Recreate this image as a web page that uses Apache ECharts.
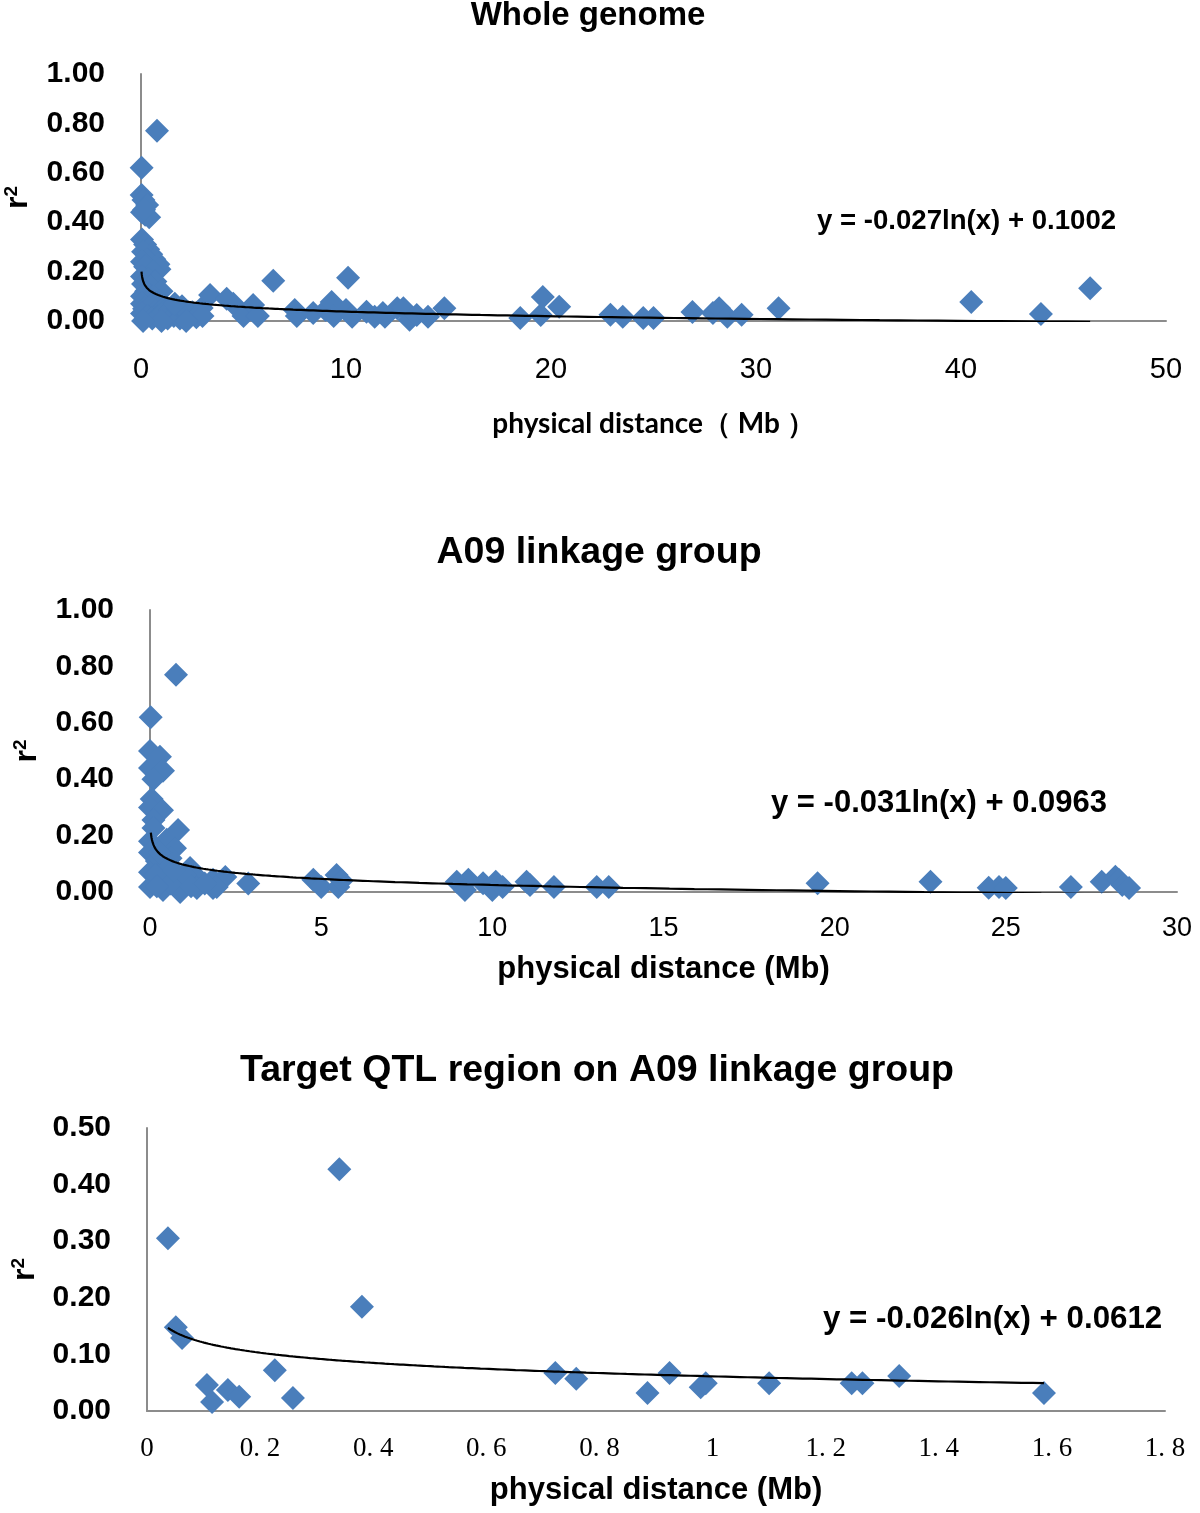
<!DOCTYPE html>
<html>
<head>
<meta charset="utf-8">
<script src="https://cdn.jsdelivr.net/npm/echarts@6/dist/echarts.min.js"></script>
<style>
html,body{margin:0;padding:0;background:#fff;}
#main{width:1200px;height:1513px;}
</style>
</head>
<body>
<div id="main"></div>
<script>
// ---------- DATA ----------
const chartTitles = ['Whole genome', 'A09 linkage group', 'Target QTL region on A09 linkage group'];
const equations = ['y = -0.027ln(x) + 0.1002', 'y = -0.031ln(x) + 0.0963', 'y = -0.026ln(x) + 0.0612'];
// trendline coefficients [a, b] for y = a*ln(x) + b, and x range [start, end]
const trendCoefs = [[-0.027, 0.1002], [-0.031, 0.0963], [-0.026, 0.0612]];
const trendRanges = [[0.025, 46.3], [0.025, 28.6], [0.037, 1.586]];

const wholeGenome = [
  [0.03,0.62],[0.78,0.77],
  [0.03,0.51],[0.12,0.49],[0.3,0.47],[0.05,0.44],[0.2,0.43],[0.4,0.42],[0.15,0.45],
  [0.05,0.33],[0.2,0.31],[0.35,0.29],[0.5,0.27],[0.1,0.28],[0.65,0.25],[0.3,0.25],[0.85,0.23],[0.9,0.21],[0.05,0.24],[0.2,0.22],[0.6,0.2],
  [0.05,0.18],[0.35,0.17],[0.7,0.16],[0.1,0.15],[0.5,0.14],[1.0,0.12],[0.25,0.12],[0.05,0.1],[0.6,0.1],[0.3,0.08],[0.9,0.08],
  [0.05,0.07],[0.15,0.05],[0.45,0.06],[0.7,0.04],[1.2,0.06],[0.05,0.03],[0.3,0.02],[0.55,0.01],[0.85,0.02],[1.1,0.035],
  [1.3,0.01],[1.45,0.045],[1.6,0.02],[1.8,0.05],[1.9,0.01],[2.1,0.04],[2.3,0.02],[2.5,0.035],[2.7,0.015],[2.96,0.053],
  [3.0,0.02],[1.0,0.0],[0.1,0.0],[2.0,0.06],[2.2,0.0],[1.65,0.07],
  [3.37,0.105],[4.18,0.09],[4.5,0.07],[5.0,0.02],[5.47,0.065],[5.7,0.02],[6.45,0.163],[7.5,0.045],[7.6,0.02],[8.4,0.032],
  [9.0,0.045],[9.3,0.077],[9.4,0.02],[10.0,0.045],[10.1,0.175],[10.3,0.017],[11.0,0.037],[11.4,0.017],[11.8,0.032],[11.9,0.017],
  [12.5,0.052],[12.8,0.052],[13.1,0.005],[13.45,0.024],[14.0,0.017],[14.8,0.052],[18.5,0.012],[19.5,0.024],[19.6,0.097],[20.4,0.058],
  [22.9,0.025],[23.5,0.017],[24.5,0.012],[25.0,0.012],[26.9,0.036],[27.9,0.032],[28.2,0.052],[28.6,0.017],[29.3,0.025],[31.1,0.052],
  [40.5,0.077],[43.9,0.028],[46.3,0.133]
];

const a09Group = [
  [0.02,0.62],[0.76,0.77],[0.0,0.50],[0.29,0.48],[0.0,0.44],[0.38,0.43],[0.1,0.40],[0.05,0.33],[0.0,0.30],[0.35,0.29],
  [0.1,0.255],[0.82,0.22],[0.1,0.227],[0.0,0.18],[0.49,0.185],[0.73,0.155],[0.0,0.14],[0.2,0.11],[1.17,0.085],[0.0,0.07],
  [0.38,0.053],[0.88,0.032],[1.37,0.053],[1.84,0.043],[2.2,0.053],[1.84,0.014],[2.87,0.03],[0.0,0.018],[0.38,0.007],[0.88,0.0],
  [1.37,0.014],[1.95,0.018],[0.5,0.09],[0.6,0.12],[0.3,0.14],[0.15,0.06],[0.6,0.03],[1.0,0.06],[0.7,0.075],[1.2,0.02],
  [1.6,0.03],[0.2,0.02],
  [4.77,0.043],[5.0,0.018],[5.45,0.06],[5.5,0.018],[5.6,0.04],[8.96,0.036],[9.3,0.043],[9.2,0.007],[9.73,0.031],[10.1,0.036],
  [10.0,0.007],[10.3,0.018],[11.0,0.036],[11.1,0.025],[11.8,0.018],[13.05,0.018],[13.4,0.018],[19.5,0.031],[22.8,0.036],
  [24.5,0.015],[24.8,0.018],[25.0,0.014],[26.9,0.018],[27.8,0.036],[28.2,0.054],[28.3,0.043],[28.4,0.025],[28.6,0.014]
];

const qtlRegion = [
  [0.037,0.305],[0.34,0.427],[0.38,0.184],[0.051,0.148],[0.062,0.129],[0.106,0.046],[0.115,0.016],[0.143,0.037],
  [0.163,0.025],[0.226,0.072],[0.258,0.023],[0.722,0.067],[0.759,0.057],[0.885,0.032],[0.924,0.067],[0.979,0.042],
  [0.988,0.049],[1.10,0.049],[1.246,0.049],[1.265,0.049],[1.33,0.062],[1.586,0.032]
];

const xAxisNames = ['physical distance（ Mb ）', 'physical distance (Mb)', 'physical distance (Mb)'];
const yAxisName = '{r|r}{s|2}';

// ---------- BUILD ----------
function trend(i) {
  const [a, b] = trendCoefs[i];
  const [s, e] = trendRanges[i];
  const pts = [];
  const n = 300;
  for (let k = 0; k <= n; k++) {
    const x = Math.exp(Math.log(s) + (Math.log(e) - Math.log(s)) * k / n);
    pts.push([x, a * Math.log(x) + b]);
  }
  return pts;
}

const SANS = '"Liberation Sans", Arial, sans-serif';
const axisLineStyle = { show: true, lineStyle: { color: '#8c8c8c', width: 2 } };
const grids = [
  { left: 141, top: 74, width: 1025, height: 247, containLabel: false, outerBoundsMode: 'none' },
  { left: 150, top: 610, width: 1027, height: 282, containLabel: false, outerBoundsMode: 'none' },
  { left: 147, top: 1128, width: 1018, height: 283, containLabel: false, outerBoundsMode: 'none' }
];

const xAxes = [
  { gridIndex: 0, type: 'value', min: 0, max: 50, interval: 10,
    axisLine: axisLineStyle, axisTick: { show: false }, splitLine: { show: false },
    axisLabel: { fontSize: 29, color: '#000', margin: 34, fontFamily: '"Liberation Sans Narrow", ' + SANS },
    name: xAxisNames[0], nameLocation: 'middle', nameGap: 89,
    nameTextStyle: { fontSize: 28, fontWeight: 'bold', color: '#000', fontFamily: 'Lato, "Open Sans", sans-serif' } },
  { gridIndex: 1, type: 'value', min: 0, max: 30, interval: 5,
    axisLine: axisLineStyle, axisTick: { show: false }, splitLine: { show: false },
    axisLabel: { fontSize: 27, color: '#000', margin: 23, fontFamily: SANS },
    name: xAxisNames[1], nameLocation: 'middle', nameGap: 62,
    nameTextStyle: { fontSize: 31, fontWeight: 'bold', color: '#000', fontFamily: SANS } },
  { gridIndex: 2, type: 'value', min: 0, max: 1.8, interval: 0.2,
    axisLine: axisLineStyle, axisTick: { show: false }, splitLine: { show: false },
    axisLabel: { fontSize: 27, color: '#000', margin: 24, fontFamily: '"Liberation Serif", "Times New Roman", serif',
      formatter: v => { const r = Math.round(v * 10) / 10; return Number.isInteger(r) ? String(r) : r.toFixed(1).replace('.', '. '); } },
    name: xAxisNames[2], nameLocation: 'middle', nameGap: 64,
    nameTextStyle: { fontSize: 31, fontWeight: 'bold', color: '#000', fontFamily: SANS } }
];

function yAx(i, max, interval, gap) {
  return { gridIndex: i, type: 'value', min: 0, max: max, interval: interval,
    axisLine: axisLineStyle, axisTick: { show: false }, splitLine: { show: false },
    axisLabel: { fontSize: 30, fontWeight: 'bold', color: '#000', margin: 36, fontFamily: SANS,
      formatter: v => v.toFixed(2) },
    name: yAxisName, nameLocation: 'middle', nameGap: gap,
    nameTextStyle: { color: '#000', fontFamily: SANS,
      rich: {
        r: { fontSize: 32, fontWeight: 'bold', fontFamily: SANS, color: '#000', verticalAlign: 'bottom' },
        s: { fontSize: 19, fontWeight: 'bold', fontFamily: SANS, color: '#000', verticalAlign: 'top' }
      } } };
}
const yAxes = [yAx(0, 1, 0.2, 107), yAx(1, 1, 0.2, 107), yAx(2, 0.5, 0.1, 106)];

const pointSets = [wholeGenome, a09Group, qtlRegion];
const series = [];
pointSets.forEach((pts, i) => {
  series.push({ type: 'scatter', xAxisIndex: i, yAxisIndex: i, data: pts, symbol: 'diamond',
    symbolSize: 24, itemStyle: { color: '#4a7ebb', opacity: 1 }, z: 2, silent: true, clip: false });
  series.push({ type: 'line', xAxisIndex: i, yAxisIndex: i, data: trend(i), showSymbol: false, symbol: 'none',
    lineStyle: { color: '#000', width: 2.2 }, z: 3, silent: true, clip: true });
});

function txt(text, x, y, font, align) {
  return { type: 'text', x: x, y: y, z: 10,
    style: { text: text, font: font, fill: '#000', align: align, verticalAlign: 'middle',
      textAlign: align, textVerticalAlign: 'middle' } };
}
const graphic = [
  txt(chartTitles[0], 588, 16, 'bold 33px ' + SANS, 'center'),
  txt(chartTitles[1], 599, 553, 'bold 37.5px ' + SANS, 'center'),
  txt(chartTitles[2], 597, 1071, 'bold 37.5px ' + SANS, 'center'),
  txt(equations[0], 817, 221, 'bold 27.6px ' + SANS, 'left'),
  txt(equations[1], 771, 803, 'bold 31px ' + SANS, 'left'),
  txt(equations[2], 823, 1319, 'bold 31.3px ' + SANS, 'left')
];

const chart = echarts.init(document.getElementById('main'), null, { renderer: 'canvas' });
chart.setOption({
  animation: false,
  backgroundColor: '#fff',
  grid: grids,
  xAxis: xAxes,
  yAxis: yAxes,
  series: series,
  graphic: graphic
});
</script>
</body>
</html>
